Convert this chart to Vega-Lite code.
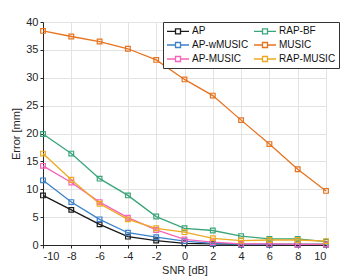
{
  "$schema": "https://vega.github.io/schema/vega-lite/v6.json",
  "width": 283,
  "height": 223,
  "autosize": {"type": "none"},
  "padding": {"left": 43, "top": 22, "right": 29, "bottom": 33},
  "background": "white",
  "config": {
    "font": "Liberation Sans",
    "view": {"stroke": "#262626", "strokeWidth": 1},
    "axis": {"labelFont": "Liberation Sans", "titleFont": "Liberation Sans", "labelFontSize": 11, "titleFontSize": 11, "titleFontWeight": "normal", "labelColor": "#262626", "titleColor": "#262626", "domainColor": "#262626", "tickColor": "#262626", "gridColor": "#e3e3e3", "tickSize": 3}
  },
  "data": {"values": [
    {"snr": -10, "err": 8.9, "method": "AP"}, {"snr": -8, "err": 6.3, "method": "AP"}, {"snr": -6, "err": 3.7, "method": "AP"}, {"snr": -4, "err": 1.5, "method": "AP"}, {"snr": -2, "err": 0.8, "method": "AP"}, {"snr": 0, "err": 0.3, "method": "AP"}, {"snr": 2, "err": 0.2, "method": "AP"}, {"snr": 4, "err": 0.1, "method": "AP"}, {"snr": 6, "err": 0.1, "method": "AP"}, {"snr": 8, "err": 0.1, "method": "AP"}, {"snr": 10, "err": 0.1, "method": "AP"},
    {"snr": -10, "err": 11.6, "method": "AP-wMUSIC"}, {"snr": -8, "err": 7.7, "method": "AP-wMUSIC"}, {"snr": -6, "err": 4.6, "method": "AP-wMUSIC"}, {"snr": -4, "err": 2.2, "method": "AP-wMUSIC"}, {"snr": -2, "err": 1.4, "method": "AP-wMUSIC"}, {"snr": 0, "err": 0.7, "method": "AP-wMUSIC"}, {"snr": 2, "err": 0.3, "method": "AP-wMUSIC"}, {"snr": 4, "err": 0.1, "method": "AP-wMUSIC"}, {"snr": 6, "err": 0.1, "method": "AP-wMUSIC"}, {"snr": 8, "err": 0.1, "method": "AP-wMUSIC"}, {"snr": 10, "err": 0.1, "method": "AP-wMUSIC"},
    {"snr": -10, "err": 14.2, "method": "AP-MUSIC"}, {"snr": -8, "err": 11.2, "method": "AP-MUSIC"}, {"snr": -6, "err": 7.7, "method": "AP-MUSIC"}, {"snr": -4, "err": 4.9, "method": "AP-MUSIC"}, {"snr": -2, "err": 2.7, "method": "AP-MUSIC"}, {"snr": 0, "err": 1.0, "method": "AP-MUSIC"}, {"snr": 2, "err": 0.5, "method": "AP-MUSIC"}, {"snr": 4, "err": 0.2, "method": "AP-MUSIC"}, {"snr": 6, "err": 0.2, "method": "AP-MUSIC"}, {"snr": 8, "err": 0.1, "method": "AP-MUSIC"}, {"snr": 10, "err": 0.1, "method": "AP-MUSIC"},
    {"snr": -10, "err": 19.9, "method": "RAP-BF"}, {"snr": -8, "err": 16.4, "method": "RAP-BF"}, {"snr": -6, "err": 11.9, "method": "RAP-BF"}, {"snr": -4, "err": 8.9, "method": "RAP-BF"}, {"snr": -2, "err": 5.1, "method": "RAP-BF"}, {"snr": 0, "err": 3.0, "method": "RAP-BF"}, {"snr": 2, "err": 2.6, "method": "RAP-BF"}, {"snr": 4, "err": 1.6, "method": "RAP-BF"}, {"snr": 6, "err": 1.1, "method": "RAP-BF"}, {"snr": 8, "err": 1.1, "method": "RAP-BF"}, {"snr": 10, "err": 0.6, "method": "RAP-BF"},
    {"snr": -10, "err": 38.4, "method": "MUSIC"}, {"snr": -8, "err": 37.4, "method": "MUSIC"}, {"snr": -6, "err": 36.5, "method": "MUSIC"}, {"snr": -4, "err": 35.2, "method": "MUSIC"}, {"snr": -2, "err": 33.2, "method": "MUSIC"}, {"snr": 0, "err": 29.7, "method": "MUSIC"}, {"snr": 2, "err": 26.8, "method": "MUSIC"}, {"snr": 4, "err": 22.4, "method": "MUSIC"}, {"snr": 6, "err": 18.1, "method": "MUSIC"}, {"snr": 8, "err": 13.6, "method": "MUSIC"}, {"snr": 10, "err": 9.7, "method": "MUSIC"},
    {"snr": -10, "err": 16.4, "method": "RAP-MUSIC"}, {"snr": -8, "err": 11.7, "method": "RAP-MUSIC"}, {"snr": -6, "err": 7.4, "method": "RAP-MUSIC"}, {"snr": -4, "err": 4.6, "method": "RAP-MUSIC"}, {"snr": -2, "err": 3.0, "method": "RAP-MUSIC"}, {"snr": 0, "err": 2.3, "method": "RAP-MUSIC"}, {"snr": 2, "err": 1.2, "method": "RAP-MUSIC"}, {"snr": 4, "err": 0.8, "method": "RAP-MUSIC"}, {"snr": 6, "err": 0.9, "method": "RAP-MUSIC"}, {"snr": 8, "err": 0.9, "method": "RAP-MUSIC"}, {"snr": 10, "err": 0.7, "method": "RAP-MUSIC"}
  ]},
  "mark": {"type": "line", "strokeWidth": 1.3, "point": {"shape": "square", "filled": false, "size": 22, "strokeWidth": 1.2}},
  "encoding": {
    "x": {"field": "snr", "type": "quantitative", "title": "SNR [dB]", "scale": {"domain": [-10, 10], "nice": false}, "axis": {"values": [-10, -8, -6, -4, -2, 0, 2, 4, 6, 8, 10], "labelExpr": "'' + datum.value", "titlePadding": 3}},
    "y": {"field": "err", "type": "quantitative", "title": "Error [mm]", "scale": {"domain": [0, 40], "nice": false}, "axis": {"values": [0, 5, 10, 15, 20, 25, 30, 35, 40], "titlePadding": 4}},
    "color": {"field": "method", "type": "nominal", "title": null,
      "scale": {"domain": ["AP", "AP-wMUSIC", "AP-MUSIC", "RAP-BF", "MUSIC", "RAP-MUSIC"], "range": ["#1a1a1a", "#3b82c8", "#f763b8", "#3aa57a", "#e8731f", "#eda920"]},
      "legend": {"orient": "none", "legendX": 120, "legendY": 0, "columns": 2, "columnPadding": 2, "rowPadding": 2, "padding": 3, "fillColor": "white", "strokeColor": "#333333", "labelFontSize": 10, "labelColor": "#111111", "labelFont": "Liberation Sans", "symbolType": "M-2.2,0H-0.5M0.5,0H2.2M-0.5,-0.5H0.5V0.5H-0.5Z", "symbolSize": 100, "symbolOffset": 6, "symbolStrokeWidth": 1.3, "symbolFillColor": "transparent", "labelOffset": 8}
    }
  }
}
